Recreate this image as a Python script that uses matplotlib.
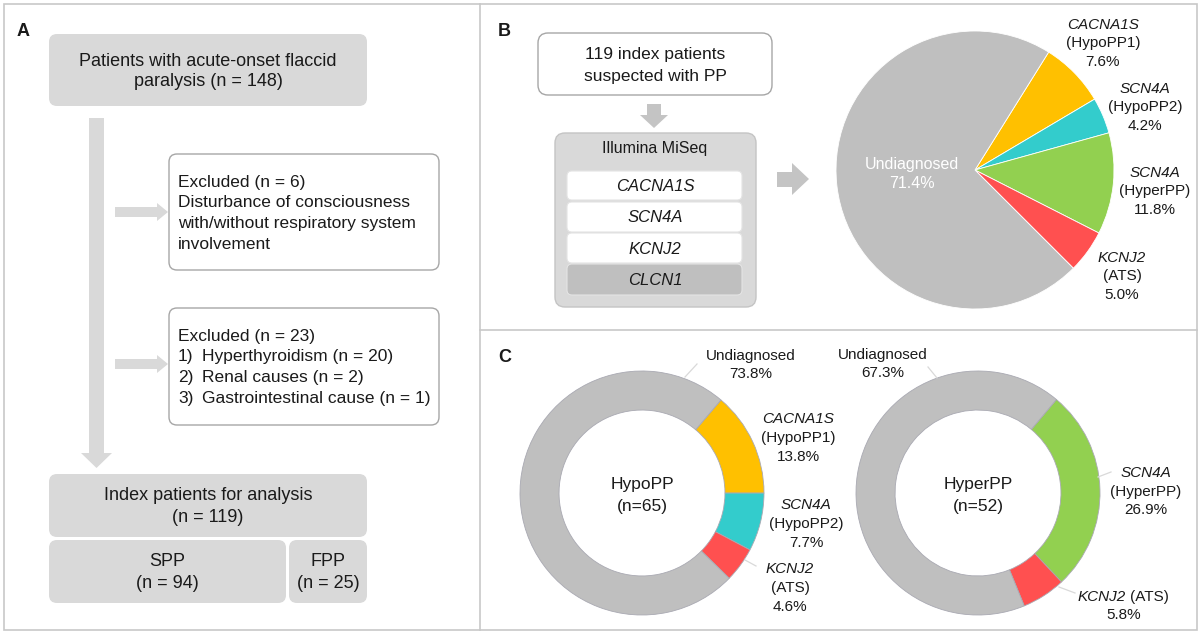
import matplotlib
matplotlib.use('Agg')
import matplotlib.pyplot as plt
from matplotlib.patches import FancyBboxPatch, Rectangle, Polygon
import numpy as np

plt.rcParams['font.family'] = ['Liberation Sans', 'DejaVu Sans']

# ---------------- data ----------------
total_n = 148
excl1_n = 6
excl2_n = 23
excl2_causes = ['Hyperthyroidism', 'Renal causes', 'Gastrointestinal cause']
excl2_counts = [20, 2, 1]
index_n = 119
spp_n = 94
fpp_n = 25
panel_genes = ['CACNA1S', 'SCN4A', 'KCNJ2', 'CLCN1']

all_genes = ['CACNA1S', 'SCN4A', 'SCN4A', 'KCNJ2', 'Undiagnosed']
all_subtypes = ['(HypoPP1)', '(HypoPP2)', '(HyperPP)', '(ATS)', '']
all_pct = [7.6, 4.2, 11.8, 5.0, 71.4]
all_colors = ['#ffc000', '#33cccc', '#92d050', '#ff5050', '#bfbfbf']

hypo_n = 65
hypo_genes = ['CACNA1S', 'SCN4A', 'KCNJ2', 'Undiagnosed']
hypo_subtypes = ['(HypoPP1)', '(HypoPP2)', '(ATS)', '']
hypo_pct = [13.8, 7.7, 4.6, 73.8]
hypo_colors = ['#ffc000', '#33cccc', '#ff5050', '#bfbfbf']

hyper_n = 52
hyper_genes = ['SCN4A', 'KCNJ2', 'Undiagnosed']
hyper_subtypes = ['(HyperPP)', '(ATS)', '']
hyper_pct = [26.9, 5.8, 67.3]
hyper_colors = ['#92d050', '#ff5050', '#bfbfbf']

# ---------------- figure ----------------
W, H = 1200, 634
fig = plt.figure(figsize=(W / 100, H / 100), dpi=100)
fig.patch.set_facecolor('white')
ax = fig.add_axes([0, 0, 1, 1], zorder=3)
ax.set_xlim(0, W)
ax.set_ylim(H, 0)
ax.axis('off')
ax.patch.set_visible(False)

TXT = '#1a1a1a'
BOXG = '#d9d9d9'
EDGE = '#a6a6a6'
PANEL = '#c8c8c8'


def rbox(x0, y0, x1, y1, fc, ec='none', lw=1.0, r=8):
    ax.add_patch(FancyBboxPatch((x0, y0), x1 - x0, y1 - y0,
                                boxstyle=f'round,pad=0,rounding_size={r}',
                                fc=fc, ec=ec, lw=lw))


def txt(x, y, s, size=12.5, style='normal', ha='center', color=TXT, weight='normal'):
    ax.text(x, y, s, fontsize=size, fontstyle=style, ha=ha, va='center',
            color=color, fontweight=weight)


def stack(x, y0, lines, pitch, size=11, ha='center', color=TXT):
    for i, (s, st) in enumerate(lines):
        txt(x, y0 + i * pitch, s, size=size, style=st, ha=ha, color=color)


# panel borders
ax.add_patch(Rectangle((4, 4), 1193, 626, fc='none', ec=PANEL, lw=1.2))
ax.plot([480, 480], [4, 630], color=PANEL, lw=1.2)
ax.plot([480, 1197], [330, 330], color=PANEL, lw=1.2)

# ---------------- panel A ----------------
txt(17, 32, 'A', size=13, weight='bold', ha='left')
rbox(49, 34, 367, 106, BOXG)
txt(208, 61, 'Patients with acute-onset flaccid', size=13)
txt(208, 82, f'paralysis (n = {total_n})', size=13)

ax.add_patch(Polygon([(89, 118), (104, 118), (104, 453), (112, 453), (96.5, 468),
                      (81, 453), (89, 453)], closed=True, fc=BOXG, ec='none'))
for cy in (212, 364):
    ax.add_patch(Polygon([(115, cy - 5), (157, cy - 5), (157, cy - 9), (168, cy),
                          (157, cy + 9), (157, cy + 5), (115, cy + 5)],
                         closed=True, fc=BOXG, ec='none'))

rbox(169, 154, 439, 270, 'white', EDGE, 1.0)
for i, s in enumerate([f'Excluded (n = {excl1_n})', 'Disturbance of consciousness',
                       'with/without respiratory system', 'involvement']):
    txt(178, 182 + i * 20.8, s, ha='left')

rbox(169, 308, 439, 425, 'white', EDGE, 1.0)
txt(178, 336, f'Excluded (n = {excl2_n})', ha='left')
for i, (c, n) in enumerate(zip(excl2_causes, excl2_counts)):
    txt(178, 357 + i * 20.8, f'{i + 1})', ha='left')
    txt(202, 357 + i * 20.8, f'{c} (n = {n})', ha='left')

rbox(49, 474, 367, 537, BOXG)
txt(208, 496, 'Index patients for analysis', size=13)
txt(208, 517, f'(n = {index_n})', size=13)
rbox(49, 540, 286, 603, BOXG)
txt(167, 562, 'SPP', size=13)
txt(167, 583, f'(n = {spp_n})', size=13)
rbox(289, 540, 367, 603, BOXG)
txt(328, 562, 'FPP', size=13)
txt(328, 583, f'(n = {fpp_n})', size=13)

# ---------------- panel B ----------------
txt(498, 31, 'B', size=13, weight='bold', ha='left')
rbox(538, 33, 772, 95, 'white', EDGE, 1.0, r=10)
txt(655, 54, f'{index_n} index patients', size=12.5)
txt(655, 76, 'suspected with PP', size=12.5)
ARW = '#c4c4c4'
ax.add_patch(Polygon([(647, 104), (661, 104), (661, 115), (668, 115), (654, 128),
                      (640, 115), (647, 115)], closed=True, fc=ARW, ec='none'))
rbox(555, 133, 756, 307, BOXG, '#c4c4c4', 1.0, r=10)
txt(655, 149, 'Illumina MiSeq', size=11.5)
gene_rows = [(171, 200), (202, 232), (233, 263), (264, 295)]
for g, (y0, y1) in zip(panel_genes, gene_rows):
    fc = '#bfbfbf' if g == 'CLCN1' else 'white'
    rbox(567, y0, 742, y1, fc, '#e4e4e4', 0.8, r=5)
    txt(655, (y0 + y1) / 2 + 1, g, size=12, style='italic')
ax.add_patch(Polygon([(777, 172), (792, 172), (792, 163), (809, 179), (792, 195),
                      (792, 187), (777, 187)], closed=True, fc=ARW, ec='none'))


def pie_axes(cx, cy, r):
    pa = fig.add_axes([(cx - r) / W, 1 - (cy + r) / H, 2 * r / W, 2 * r / H], zorder=1)
    pa.patch.set_visible(False)
    return pa


pb = pie_axes(975, 170, 139)
pb.pie(all_pct, colors=all_colors, startangle=58, counterclock=False,
       wedgeprops=dict(edgecolor='white', linewidth=0.6))
pb.set_xlim(-1, 1)
pb.set_ylim(-1, 1)
pb.axis('off')

txt(912, 165, all_genes[4], size=11.5, color='white')
txt(912, 184, f'{all_pct[4]}%', size=11.5, color='white')
b_pos = [(1103, 25), (1145, 89), (1155, 173), (1122, 258)]
for (x, y), g, s, p in zip(b_pos, all_genes[:4], all_subtypes[:4], all_pct[:4]):
    stack(x, y, [(g, 'italic'), (s, 'normal'), (f'{p}%', 'normal')], 18.3, size=11)

# ---------------- panel C ----------------
txt(498, 357, 'C', size=13, weight='bold', ha='left')
DEDGE = '#a9a9b2'

p1 = pie_axes(642, 493, 122)
p1.pie(hypo_pct, colors=hypo_colors, startangle=hypo_pct[0] * 3.6, counterclock=False,
       wedgeprops=dict(width=0.32, edgecolor=DEDGE, linewidth=0.6))
p1.set_xlim(-1, 1)
p1.set_ylim(-1, 1)
p1.axis('off')

p2 = pie_axes(978, 493, 122)
p2.pie(hyper_pct, colors=hyper_colors, startangle=50, counterclock=False,
       wedgeprops=dict(width=0.32, edgecolor=DEDGE, linewidth=0.6))
p2.set_xlim(-1, 1)
p2.set_ylim(-1, 1)
p2.axis('off')

txt(642, 484, 'HypoPP', size=12.5)
txt(642, 506, f'(n={hypo_n})', size=12.5)
txt(978, 484, 'HyperPP', size=12.5)
txt(978, 506, f'(n={hyper_n})', size=12.5)

# leader lines (light)
LEAD = '#d9d9d9'
for (x0, y0, x1, y1) in [(685, 377, 697, 364), (745, 560, 756, 566),
                         (928, 367, 937, 378), (1098, 477, 1111, 472),
                         (1059, 587, 1075, 593)]:
    ax.plot([x0, x1], [y0, y1], color=LEAD, lw=0.9)

stack(751, 356, [(hypo_genes[3], 'normal'), (f'{hypo_pct[3]}%', 'normal')], 18.3)
c1_pos = [(798, 419), (806, 505), (790, 569)]
for (x, y), g, s, p in zip(c1_pos, hypo_genes[:3], hypo_subtypes[:3], hypo_pct[:3]):
    stack(x, y, [(g, 'italic'), (s, 'normal'), (f'{p}%', 'normal')], 18.8)

stack(883, 355, [(hyper_genes[2], 'normal'), (f'{hyper_pct[2]}%', 'normal')], 18.3)
stack(1146, 473, [(hyper_genes[0], 'italic'), (hyper_subtypes[0], 'normal'),
                  (f'{hyper_pct[0]}%', 'normal')], 18.6)
txt(1126, 597, hyper_genes[1], size=11, style='italic', ha='right')
txt(1130, 597, hyper_subtypes[1], size=11, ha='left')
txt(1124, 615, f'{hyper_pct[1]}%', size=11)

fig.savefig('out.png', dpi=100, facecolor='white')
